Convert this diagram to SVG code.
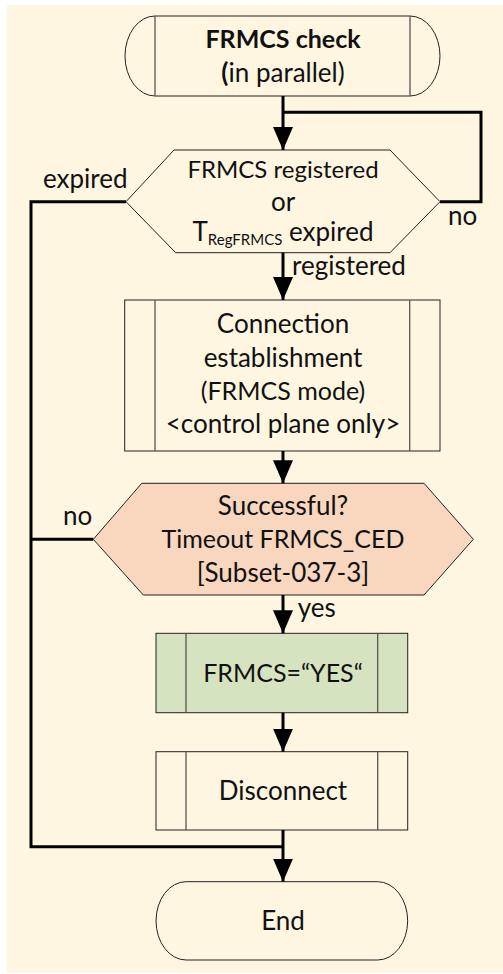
<svg xmlns="http://www.w3.org/2000/svg" width="503" height="974" viewBox="0 0 503 974">
<defs>
<marker id="arr" viewBox="0 0 23 20" refX="23" refY="10" markerWidth="23" markerHeight="20" markerUnits="userSpaceOnUse" orient="auto">
<path d="M0,0 L23,10 L0,20 z" fill="#000"/>
</marker>
<style>
.bg{fill:#FEF6E1}
.shape{fill:#FEF6E1;stroke:#222;stroke-width:1}
.peach{fill:#F9D6BE;stroke:#222;stroke-width:1}
.green{fill:#D6E3C0;stroke:#222;stroke-width:1}
.inner{stroke:#555;stroke-width:1.3;fill:none}
.conn{fill:none;stroke:#000;stroke-width:3}
text{font-family:Lato,"Open Sans","Liberation Sans",sans-serif;font-size:26px;fill:#111}
.k{font-size:25px}
.c{text-anchor:middle}
.b{font-weight:bold}
</style>
</defs>
<rect x="0" y="0" width="503" height="974" fill="#fff"/>
<rect class="bg" x="7" y="5" width="496" height="968"/>

<g id="start">
<path class="shape" d="M155,16 H410 A30,40 0 0 1 410,96 H155 A30,40 0 0 1 155,16 Z"/>
<line class="inner" x1="155" y1="16" x2="155" y2="96"/>
<line class="inner" x1="410" y1="16" x2="410" y2="96"/>
<text class="c b k" x="283" y="48">FRMCS check</text>
<text class="c" x="283" y="82"><tspan class="b">(</tspan>in parallel)</text>
</g>

<g id="check-registered">
<polygon class="shape" points="174,150 390,150 440,201.7 390,252.7 175.7,252.7 126,201.7"/>
<text class="c" x="283" y="178" style="font-size:24px">FRMCS registered</text>
<text class="c" x="283" y="211">or</text>
<text class="c" x="283" y="241">T<tspan font-size="15" dy="4">RegFRMCS</tspan><tspan dy="-4"> expired</tspan></text>
</g>

<g id="connection-establishment">
<rect class="shape" x="124.7" y="300" width="315.3" height="151"/>
<line class="inner" x1="155" y1="300" x2="155" y2="451"/>
<line class="inner" x1="409.7" y1="300" x2="409.7" y2="451"/>
<text class="c" x="283" y="332.7">Connection</text>
<text class="c" x="283" y="366.7">establishment</text>
<text class="c k" x="283" y="400">(FRMCS mode)</text>
<text class="c" x="283" y="433.3">&lt;control plane only&gt;</text>
</g>

<g id="successful">
<polygon class="peach" points="141.7,483.3 424,483.3 473.3,539.3 424,595 143.3,595 93.3,539.3"/>
<text class="c" x="283" y="515">Successful?</text>
<text class="c k" x="283" y="548.3">Timeout FRMCS_CED</text>
<text class="c" x="283" y="581.7">[Subset-037-3]</text>
</g>

<g id="frmcs-yes">
<rect class="green" x="156" y="633.3" width="251.7" height="79.4"/>
<line class="inner" x1="186" y1="633.3" x2="186" y2="712.7"/>
<line class="inner" x1="377.7" y1="633.3" x2="377.7" y2="712.7"/>
<text class="c k" x="283" y="681.7">FRMCS=“YES“</text>
</g>

<g id="disconnect">
<rect class="shape" x="156" y="751.7" width="251.7" height="78.3"/>
<line class="inner" x1="186" y1="751.7" x2="186" y2="830"/>
<line class="inner" x1="377.7" y1="751.7" x2="377.7" y2="830"/>
<text class="c" x="283" y="800">Disconnect</text>
</g>

<g id="end">
<path class="shape" d="M186,881.7 H377.7 A30,39.15 0 0 1 377.7,960 H186 A30,39.15 0 0 1 186,881.7 Z"/>
<text class="c" x="283" y="930">End</text>
</g>

<g id="connectors">
<path class="conn" d="M283,96 V150" marker-end="url(#arr)"/>
<path class="conn" d="M440,201.7 H481 V112.3 H283"/>
<path class="conn" d="M283,252.7 V300" marker-end="url(#arr)"/>
<path class="conn" d="M126,201.7 H31 V846.7 H283"/>
<path class="conn" d="M283,451 V483.3" marker-end="url(#arr)"/>
<path class="conn" d="M93.3,539.3 H31"/>
<path class="conn" d="M283,595 V633.3" marker-end="url(#arr)"/>
<path class="conn" d="M283,712.7 V751.7" marker-end="url(#arr)"/>
<path class="conn" d="M283,830 V881.7" marker-end="url(#arr)"/>
<text x="43" y="188">expired</text>
<text x="448" y="225">no</text>
<text x="292" y="275">registered</text>
<text x="63" y="525">no</text>
<text x="297.7" y="616.7">yes</text>
</g>
</svg>
